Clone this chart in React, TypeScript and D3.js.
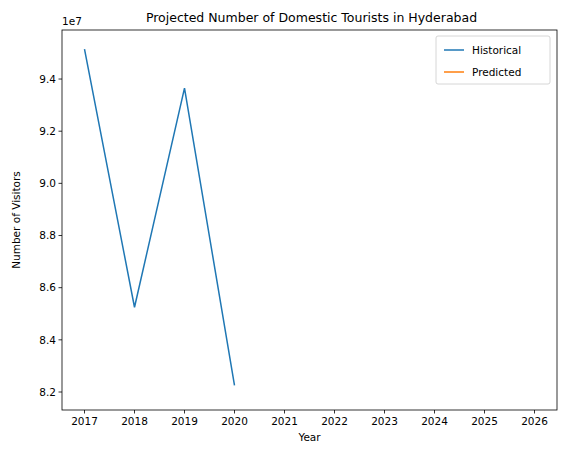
import * as d3 from "d3";

const years = [2017, 2018, 2019, 2020, 2021, 2022, 2023, 2024, 2025, 2026];
const histYears = [2017, 2018, 2019, 2020];
const histValues = [9.515e7, 8.525e7, 9.365e7, 8.225e7];
const yTicks = [8.2e7, 8.4e7, 8.6e7, 8.8e7, 9.0e7, 9.2e7, 9.4e7];

const W = 567, H = 455;
const m = { left: 62, right: 557, top: 30, bottom: 410 };

export default function App() {
  const x = d3.scaleLinear().domain([2016.55, 2026.45]).range([m.left, m.right]);
  const y = d3.scaleLinear().domain([8.131e7, 9.588e7]).range([m.bottom, m.top]);
  const line = d3.line<number>().x((_, i) => x(histYears[i])).y((d) => y(d));
  const font = "DejaVu Sans, sans-serif";
  return (
    <svg width={W} height={H} style={{ position: "absolute", left: 0, top: 0 }} fontFamily={font}>
      <rect width={W} height={H} fill="#fff" />
      <path d={line(histValues) ?? ""} fill="none" stroke="#1f77b4" strokeWidth={1.5} />
      <rect x={m.left} y={m.top} width={m.right - m.left} height={m.bottom - m.top} fill="none" stroke="#000" strokeWidth={0.8} />
      {years.map((yr) => (
        <g key={yr}>
          <line x1={x(yr)} x2={x(yr)} y1={m.bottom} y2={m.bottom + 3.5} stroke="#000" strokeWidth={0.8} />
          <text x={x(yr)} y={m.bottom + 15} textAnchor="middle" fontSize={10.5}>{yr}</text>
        </g>
      ))}
      {yTicks.map((t) => (
        <g key={t}>
          <line x1={m.left - 3.5} x2={m.left} y1={y(t)} y2={y(t)} stroke="#000" strokeWidth={0.8} />
          <text x={m.left - 6} y={y(t)} dy="0.35em" textAnchor="end" fontSize={10.5}>{(t / 1e7).toFixed(1)}</text>
        </g>
      ))}
      <text x={m.left} y={m.top - 5} fontSize={10.5}>1e7</text>
      <text x={(m.left + m.right) / 2} y={441} textAnchor="middle" fontSize={10.5}>Year</text>
      <text transform={`translate(20,${(m.top + m.bottom) / 2}) rotate(-90)`} textAnchor="middle" fontSize={10.5}>Number of Visitors</text>
      <text x={(m.left + m.right) / 2 + 2} y={22} textAnchor="middle" fontSize={12.5}>Projected Number of Domestic Tourists in Hyderabad</text>
      <g transform="translate(436,36)">
        <rect x={0} y={0} width={114} height={48} rx={2} fill="#fff" stroke="#ccc" strokeWidth={0.8} />
        <line x1={8} x2={28} y1={14} y2={14} stroke="#1f77b4" strokeWidth={1.5} />
        <text x={36} y={14} dy="0.35em" fontSize={10.5}>Historical</text>
        <line x1={8} x2={28} y1={36} y2={36} stroke="#ff7f0e" strokeWidth={1.5} />
        <text x={36} y={36} dy="0.35em" fontSize={10.5}>Predicted</text>
      </g>
    </svg>
  );
}
